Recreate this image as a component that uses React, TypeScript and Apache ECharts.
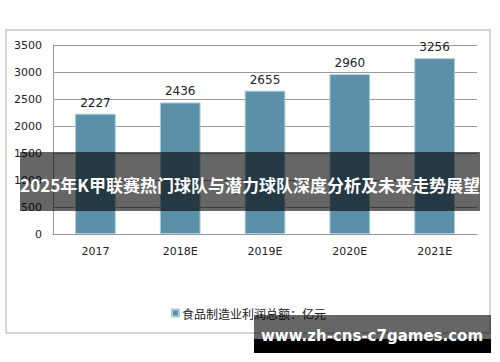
import React, { useEffect, useRef } from "react";
import * as echarts from "echarts";

const categories = ["2017", "2018E", "2019E", "2020E", "2021E"];
const profitValues = [2227, 2436, 2655, 2960, 3256];
const seriesName = "食品制造业利润总额：亿元";
const bandTitle = "2025年K甲联赛热门球队与潜力球队深度分析及未来走势展望";
const watermark = "www.zh-cns-c7games.com";

export default function App() {
  const ref = useRef<HTMLDivElement>(null);
  useEffect(() => {
    if (!ref.current) return;
    const chart = echarts.init(ref.current, undefined, { renderer: "svg" });
    const font = "'DejaVu Sans', Verdana, sans-serif";
    chart.setOption({
      animation: false,
      backgroundColor: "#ffffff",
      grid: { left: 53, right: 23, top: 45, bottom: 128 },
      legend: {
        data: [seriesName],
        left: 166,
        top: 302,
        icon: "rect",
        itemWidth: 7,
        itemHeight: 7,
        itemGap: 4,
        textStyle: { fontSize: 12, color: "#222", fontFamily: "'Noto Sans CJK SC', sans-serif", padding: [0, 0, 0, -2] },
      },
      xAxis: {
        type: "category",
        data: categories,
        axisLine: { show: true, lineStyle: { color: "#999", width: 1 } },
        axisTick: { show: false },
        axisLabel: { color: "#222", fontSize: 11, margin: 12, fontFamily: font },
      },
      yAxis: {
        type: "value",
        min: 0,
        max: 3500,
        interval: 500,
        axisLine: { show: true, lineStyle: { color: "#999", width: 1 } },
        axisTick: { show: false },
        axisLabel: {
          color: "#222",
          fontSize: 11,
          margin: 11,
          fontFamily: font,
          formatter: (v: number) => String(v),
        },
        splitLine: { lineStyle: { color: "#999", width: 1 } },
      },
      series: [
        {
          name: seriesName,
          type: "bar",
          data: profitValues,
          barWidth: "48%",
          itemStyle: { color: "#5b90a8", borderColor: "#a8ccdc", borderWidth: 1 },
          label: { show: true, position: "top", distance: 5, color: "#222", fontSize: 12, fontFamily: font },
        },
      ],
      graphic: [
        {
          type: "rect",
          z: 100,
          shape: { x: 6, y: 30, width: 484, height: 303 },
          style: { fill: "none", stroke: "#c8c8c8", lineWidth: 1.5 },
        },
        {
          type: "rect",
          z: 101,
          shape: { x: 20, y: 152, width: 460, height: 59 },
          style: { fill: "rgba(0,0,0,0.6)" },
        },
        {
          type: "text",
          z: 102,
          x: 250,
          y: 184,
          style: {
            text: bandTitle,
            fill: "#ffffff",
            font: "bold 17px 'Noto Sans CJK SC', sans-serif",
            textAlign: "center",
            textVerticalAlign: "middle",
          },
        },
        {
          type: "rect",
          z: 101,
          shape: { x: 254, y: 315, width: 237, height: 24 },
          style: { fill: "rgba(0,0,0,0.6)" },
        },
        {
          type: "rect",
          z: 101,
          shape: { x: 254, y: 339, width: 237, height: 14 },
          style: { fill: "#000000" },
        },
        {
          type: "text",
          z: 102,
          x: 372,
          y: 336,
          style: {
            text: watermark,
            fill: "#ffffff",
            font: "bold 15px 'DejaVu Sans', Verdana, sans-serif",
            textAlign: "center",
            textVerticalAlign: "middle",
          },
        },
      ],
    });
    return () => chart.dispose();
  }, []);
  return (
    <div
      ref={ref}
      style={{ position: "fixed", left: 0, top: 0, width: 500, height: 362 }}
    />
  );
}
